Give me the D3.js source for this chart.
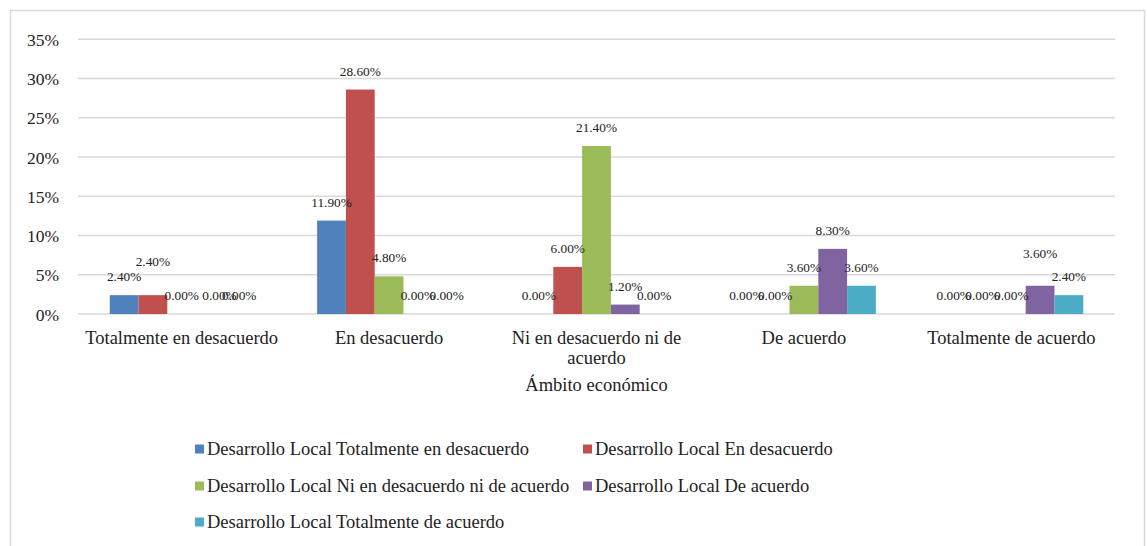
<!DOCTYPE html>
<html>
<head>
<meta charset="utf-8">
<script src="https://cdn.jsdelivr.net/npm/d3@7"></script>
<style>
  html, body { margin: 0; padding: 0; background: #fff; }
  svg { display: block; font-family: "Liberation Serif", "Times New Roman", serif; }
</style>
</head>
<body>
<svg id="chart" width="1147" height="546"></svg>
<script>
// ---- data ----
const categories = ["Totalmente en desacuerdo", "En desacuerdo", "Ni en desacuerdo ni de acuerdo", "De acuerdo", "Totalmente de acuerdo"];
const seriesNames = [
  "Desarrollo Local Totalmente en desacuerdo",
  "Desarrollo Local En desacuerdo",
  "Desarrollo Local Ni en desacuerdo ni de acuerdo",
  "Desarrollo Local De acuerdo",
  "Desarrollo Local Totalmente de acuerdo"
];
const sTotDes  = [0.024, 0.119, 0.000, 0.000, 0.000];
const sEnDes   = [0.024, 0.286, 0.060, 0.000, 0.000];
const sNi      = [0.000, 0.048, 0.214, 0.036, 0.000];
const sDeAc    = [0.000, 0.000, 0.012, 0.083, 0.036];
const sTotAc   = [0.000, 0.000, 0.000, 0.036, 0.024];
const seriesValues = [sTotDes, sEnDes, sNi, sDeAc, sTotAc];
const yTicks = [0, 0.05, 0.10, 0.15, 0.20, 0.25, 0.30, 0.35];
const axisTitle = "Ámbito económico";

// ---- style / layout ----
const colors = ["#4F81BD", "#C0504D", "#9BBB59", "#8064A2", "#4BACC6"];
const gridColor = "#d9d9d9";
const plot = { left: 78, right: 1115, top: 39.3, bottom: 314 };
// manual nudges of a few data labels (series index|category index)
const labelNudge = { "1|0": { dx: 0, dy: -15 }, "3|4": { dx: 0, dy: -14 }, "3|0": { dx: 9, dy: 0 } };

const svg = d3.select("#chart");
svg.append("rect").attr("width", 1147).attr("height", 546).attr("fill", "#fff");
svg.append("rect").attr("x", 10.5).attr("y", 10.5).attr("width", 1134).attr("height", 560)
  .attr("fill", "none").attr("stroke", gridColor).attr("stroke-width", 1.5);

const y = d3.scaleLinear().domain([0, 0.35]).range([plot.bottom, plot.top]);
const x = d3.scaleBand().domain(categories).range([plot.left, plot.right]).padding(0);
const bw = x.bandwidth();
const groupGap = bw * (1 - 0.694) / 2;
const xs = d3.scaleBand().domain(d3.range(seriesNames.length)).range([groupGap, bw - groupGap]).padding(0);

// gridlines
svg.append("g").selectAll("line").data(yTicks).join("line")
  .attr("x1", plot.left).attr("x2", plot.right)
  .attr("y1", d => y(d)).attr("y2", d => y(d))
  .attr("stroke", gridColor).attr("stroke-width", 1.5);

// y axis labels
const yAxis = d3.axisLeft(y).tickValues(yTicks).tickFormat(d3.format(".0%")).tickSize(0).tickPadding(0);
const gy = svg.append("g").attr("transform", "translate(59,0)").call(yAxis);
gy.select(".domain").remove();
gy.selectAll("text").attr("font-size", "17.5px").attr("fill", "#222")
  .attr("font-family", "Liberation Serif").attr("dy", "0.35em");

// bars
const fmt = d3.format(".2%");
seriesValues.forEach((vals, si) => {
  const g = svg.append("g");
  g.selectAll("rect").data(vals).join("rect")
    .attr("x", (d, ci) => x(categories[ci]) + xs(si))
    .attr("width", xs.bandwidth())
    .attr("y", d => y(d))
    .attr("height", d => y(0) - y(d))
    .attr("fill", colors[si]);
});

// data labels
seriesValues.forEach((vals, si) => {
  svg.append("g").selectAll("text").data(vals).join("text")
    .attr("x", (d, ci) => x(categories[ci]) + xs(si) + xs.bandwidth() / 2 + ((labelNudge[si + "|" + ci] || {}).dx || 0))
    .attr("y", (d, ci) => y(d) - 18.5 + ((labelNudge[si + "|" + ci] || {}).dy || 0))
    .attr("dy", "0.35em")
    .attr("text-anchor", "middle")
    .attr("font-size", "13.3px")
    .attr("fill", "#222")
    .text(d => fmt(d));
});

// category labels (with wrapping)
const catG = svg.append("g");
categories.forEach(c => {
  const t = catG.append("text")
    .attr("x", x(c) + bw / 2).attr("y", 338)
    .attr("dy", "0.35em").attr("text-anchor", "middle")
    .attr("font-size", "18.5px").attr("fill", "#222");
  const words = c.split(" ");
  let line = [], lineNo = 0;
  let ts = t.append("tspan").attr("x", x(c) + bw / 2);
  words.forEach(w => {
    line.push(w);
    ts.text(line.join(" "));
    if (ts.node().getComputedTextLength() > bw - 4 && line.length > 1) {
      line.pop();
      ts.text(line.join(" "));
      line = [w];
      lineNo++;
      ts = t.append("tspan").attr("x", x(c) + bw / 2).attr("dy", "20px").text(w);
    }
  });
});

// axis title
svg.append("text").attr("x", (plot.left + plot.right) / 2).attr("y", 385)
  .attr("dy", "0.35em").attr("text-anchor", "middle")
  .attr("font-size", "18.5px").attr("fill", "#222").text(axisTitle);

// legend
const legendPos = [[195, 449], [583, 449], [195, 486], [583, 486], [195, 522]];
const lg = svg.append("g");
seriesNames.forEach((n, i) => {
  const [lx, ly] = legendPos[i];
  lg.append("rect").attr("x", lx).attr("y", ly - 4.5).attr("width", 9).attr("height", 9).attr("fill", colors[i]);
  lg.append("text").attr("x", lx + 12).attr("y", ly).attr("dy", "0.35em")
    .attr("font-size", "18.5px").attr("fill", "#222").text(n);
});
</script>
</body>
</html>
